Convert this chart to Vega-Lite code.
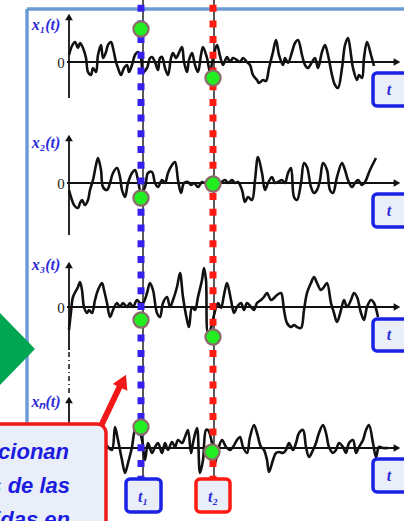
{
"$schema":"https://vega.github.io/schema/vega-lite/v6.json",
"width":404,"height":521,"autosize":{"type":"fit","contains":"padding"},"padding":0,
"background":"white",
"config":{"view":{"stroke":null}},
"datasets":{
"frame":[{"x":27,"y":9,"x2":404,"y2":9},{"x":27,"y":9,"x2":27,"y2":521}],
"tri":[{"x":0,"y":313,"y2":385},{"x":35,"y":349,"y2":349}],
"thin":[{"x":143,"y":0,"x2":143,"y2":478},{"x":214,"y":0,"x2":214,"y2":478}],
"axes":[{"x":67,"y":62,"x2":396,"y2":62},{"x":69,"y":98,"x2":69,"y2":18},
{"x":67,"y":183,"x2":396,"y2":183},{"x":69,"y":235,"x2":69,"y2":139},
{"x":67,"y":307,"x2":396,"y2":307},{"x":69,"y":350,"x2":69,"y2":266},
{"x":106,"y":448,"x2":396,"y2":448},{"x":69,"y":424,"x2":69,"y2":401}],
"axisdash":[{"x":69,"y":352,"x2":69,"y2":393}],
"arrR":[{"x":397,"y":62},{"x":397,"y":183},{"x":397,"y":307},{"x":397,"y":448}],
"arrU":[{"x":69,"y":17},{"x":69,"y":138},{"x":69,"y":265},{"x":69,"y":400}],
"signals":[
{"p":1,"x":69,"y":55},{"p":1,"x":72,"y":46},{"p":1,"x":75,"y":42},{"p":1,"x":78,"y":48},{"p":1,"x":80,"y":43},{"p":1,"x":83,"y":48},{"p":1,"x":86,"y":58},{"p":1,"x":88,"y":72},{"p":1,"x":91,"y":75},{"p":1,"x":93,"y":68},{"p":1,"x":96,"y":72},{"p":1,"x":98,"y":55},{"p":1,"x":101,"y":45},{"p":1,"x":103,"y":58},{"p":1,"x":106,"y":52},{"p":1,"x":108,"y":45},{"p":1,"x":111,"y":42},{"p":1,"x":113,"y":48},{"p":1,"x":116,"y":62},{"p":1,"x":118,"y":68},{"p":1,"x":121,"y":75},{"p":1,"x":124,"y":68},{"p":1,"x":127,"y":65},{"p":1,"x":129,"y":72},{"p":1,"x":132,"y":65},{"p":1,"x":135,"y":55},{"p":1,"x":138,"y":52},{"p":1,"x":141,"y":58},{"p":1,"x":143,"y":72},{"p":1,"x":147,"y":68},{"p":1,"x":150,"y":58},{"p":1,"x":152,"y":57},{"p":1,"x":155,"y":62},{"p":1,"x":158,"y":70},{"p":1,"x":160,"y":58},{"p":1,"x":162,"y":57},{"p":1,"x":165,"y":68},{"p":1,"x":168,"y":75},{"p":1,"x":171,"y":58},{"p":1,"x":173,"y":53},{"p":1,"x":176,"y":58},{"p":1,"x":178,"y":55},{"p":1,"x":182,"y":47},{"p":1,"x":184,"y":62},{"p":1,"x":187,"y":72},{"p":1,"x":189,"y":60},{"p":1,"x":192,"y":53},{"p":1,"x":195,"y":65},{"p":1,"x":198,"y":72},{"p":1,"x":201,"y":55},{"p":1,"x":203,"y":47},{"p":1,"x":207,"y":58},{"p":1,"x":210,"y":72},{"p":1,"x":213,"y":58},{"p":1,"x":217,"y":45},{"p":1,"x":220,"y":56},{"p":1,"x":223,"y":65},{"p":1,"x":227,"y":57},{"p":1,"x":230,"y":62},{"p":1,"x":233,"y":58},{"p":1,"x":237,"y":60},{"p":1,"x":240,"y":62},{"p":1,"x":243,"y":58},{"p":1,"x":247,"y":62},{"p":1,"x":250,"y":65},{"p":1,"x":253,"y":75},{"p":1,"x":257,"y":80},{"p":1,"x":259,"y":83},{"p":1,"x":263,"y":80},{"p":1,"x":266,"y":81},{"p":1,"x":269,"y":68},{"p":1,"x":273,"y":52},{"p":1,"x":276,"y":40},{"p":1,"x":279,"y":55},{"p":1,"x":283,"y":65},{"p":1,"x":285,"y":58},{"p":1,"x":288,"y":63},{"p":1,"x":292,"y":52},{"p":1,"x":295,"y":43},{"p":1,"x":298,"y":40},{"p":1,"x":302,"y":55},{"p":1,"x":305,"y":65},{"p":1,"x":308,"y":68},{"p":1,"x":312,"y":62},{"p":1,"x":315,"y":58},{"p":1,"x":318,"y":68},{"p":1,"x":322,"y":52},{"p":1,"x":325,"y":45},{"p":1,"x":328,"y":55},{"p":1,"x":332,"y":75},{"p":1,"x":335,"y":85},{"p":1,"x":338,"y":88},{"p":1,"x":342,"y":68},{"p":1,"x":345,"y":45},{"p":1,"x":348,"y":38},{"p":1,"x":351,"y":55},{"p":1,"x":353,"y":68},{"p":1,"x":357,"y":80},{"p":1,"x":359,"y":75},{"p":1,"x":362,"y":78},{"p":1,"x":364,"y":58},{"p":1,"x":367,"y":42},{"p":1,"x":371,"y":55},{"p":1,"x":374,"y":66},
{"p":2,"x":69,"y":190},{"p":2,"x":71,"y":197},{"p":2,"x":74,"y":205},{"p":2,"x":78,"y":208},{"p":2,"x":80,"y":203},{"p":2,"x":82,"y":200},{"p":2,"x":85,"y":205},{"p":2,"x":88,"y":200},{"p":2,"x":90,"y":190},{"p":2,"x":93,"y":180},{"p":2,"x":96,"y":165},{"p":2,"x":98,"y":158},{"p":2,"x":101,"y":170},{"p":2,"x":103,"y":187},{"p":2,"x":107,"y":190},{"p":2,"x":110,"y":183},{"p":2,"x":113,"y":173},{"p":2,"x":117,"y":168},{"p":2,"x":120,"y":177},{"p":2,"x":122,"y":190},{"p":2,"x":125,"y":197},{"p":2,"x":128,"y":183},{"p":2,"x":132,"y":173},{"p":2,"x":135,"y":170},{"p":2,"x":138,"y":180},{"p":2,"x":141,"y":193},{"p":2,"x":145,"y":187},{"p":2,"x":148,"y":173},{"p":2,"x":152,"y":172},{"p":2,"x":155,"y":183},{"p":2,"x":158,"y":187},{"p":2,"x":162,"y":180},{"p":2,"x":165,"y":183},{"p":2,"x":168,"y":173},{"p":2,"x":172,"y":165},{"p":2,"x":175,"y":162},{"p":2,"x":178,"y":180},{"p":2,"x":181,"y":193},{"p":2,"x":184,"y":183},{"p":2,"x":188,"y":182},{"p":2,"x":191,"y":185},{"p":2,"x":194,"y":183},{"p":2,"x":198,"y":187},{"p":2,"x":202,"y":182},{"p":2,"x":205,"y":183},{"p":2,"x":208,"y":180},{"p":2,"x":213,"y":183},{"p":2,"x":217,"y":184},{"p":2,"x":220,"y":183},{"p":2,"x":225,"y":180},{"p":2,"x":228,"y":183},{"p":2,"x":232,"y":180},{"p":2,"x":235,"y":183},{"p":2,"x":238,"y":182},{"p":2,"x":242,"y":190},{"p":2,"x":245,"y":202},{"p":2,"x":248,"y":197},{"p":2,"x":252,"y":200},{"p":2,"x":255,"y":180},{"p":2,"x":258,"y":157},{"p":2,"x":262,"y":173},{"p":2,"x":265,"y":190},{"p":2,"x":268,"y":183},{"p":2,"x":272,"y":177},{"p":2,"x":275,"y":183},{"p":2,"x":278,"y":182},{"p":2,"x":282,"y":180},{"p":2,"x":285,"y":183},{"p":2,"x":288,"y":173},{"p":2,"x":291,"y":168},{"p":2,"x":294,"y":197},{"p":2,"x":297,"y":200},{"p":2,"x":301,"y":183},{"p":2,"x":304,"y":163},{"p":2,"x":307,"y":167},{"p":2,"x":311,"y":187},{"p":2,"x":314,"y":193},{"p":2,"x":317,"y":190},{"p":2,"x":320,"y":180},{"p":2,"x":323,"y":163},{"p":2,"x":327,"y":170},{"p":2,"x":330,"y":190},{"p":2,"x":333,"y":193},{"p":2,"x":337,"y":177},{"p":2,"x":342,"y":163},{"p":2,"x":345,"y":170},{"p":2,"x":348,"y":180},{"p":2,"x":352,"y":187},{"p":2,"x":355,"y":183},{"p":2,"x":358,"y":180},{"p":2,"x":362,"y":185},{"p":2,"x":365,"y":182},{"p":2,"x":370,"y":170},{"p":2,"x":376,"y":158},
{"p":3,"x":69,"y":330},{"p":3,"x":71,"y":312},{"p":3,"x":73,"y":297},{"p":3,"x":78,"y":287},{"p":3,"x":80,"y":282},{"p":3,"x":82,"y":290},{"p":3,"x":84,"y":307},{"p":3,"x":87,"y":313},{"p":3,"x":89,"y":310},{"p":3,"x":92,"y":313},{"p":3,"x":95,"y":300},{"p":3,"x":98,"y":290},{"p":3,"x":102,"y":283},{"p":3,"x":104,"y":290},{"p":3,"x":107,"y":303},{"p":3,"x":110,"y":317},{"p":3,"x":113,"y":310},{"p":3,"x":117,"y":303},{"p":3,"x":120,"y":307},{"p":3,"x":123,"y":303},{"p":3,"x":127,"y":307},{"p":3,"x":130,"y":303},{"p":3,"x":133,"y":307},{"p":3,"x":137,"y":300},{"p":3,"x":140,"y":303},{"p":3,"x":143,"y":303},{"p":3,"x":147,"y":293},{"p":3,"x":150,"y":283},{"p":3,"x":153,"y":290},{"p":3,"x":157,"y":313},{"p":3,"x":160,"y":317},{"p":3,"x":163,"y":303},{"p":3,"x":167,"y":297},{"p":3,"x":170,"y":307},{"p":3,"x":173,"y":300},{"p":3,"x":177,"y":287},{"p":3,"x":180,"y":273},{"p":3,"x":183,"y":297},{"p":3,"x":187,"y":320},{"p":3,"x":189,"y":327},{"p":3,"x":192,"y":307},{"p":3,"x":195,"y":310},{"p":3,"x":198,"y":297},{"p":3,"x":202,"y":280},{"p":3,"x":204,"y":268},{"p":3,"x":206,"y":280},{"p":3,"x":208,"y":333},{"p":3,"x":211,"y":328},{"p":3,"x":214,"y":315},{"p":3,"x":218,"y":303},{"p":3,"x":221,"y":308},{"p":3,"x":224,"y":295},{"p":3,"x":227,"y":283},{"p":3,"x":231,"y":300},{"p":3,"x":234,"y":313},{"p":3,"x":237,"y":307},{"p":3,"x":241,"y":303},{"p":3,"x":244,"y":310},{"p":3,"x":247,"y":303},{"p":3,"x":251,"y":307},{"p":3,"x":254,"y":310},{"p":3,"x":257,"y":303},{"p":3,"x":261,"y":300},{"p":3,"x":264,"y":297},{"p":3,"x":267,"y":293},{"p":3,"x":271,"y":300},{"p":3,"x":274,"y":298},{"p":3,"x":277,"y":295},{"p":3,"x":281,"y":293},{"p":3,"x":284,"y":310},{"p":3,"x":287,"y":323},{"p":3,"x":291,"y":327},{"p":3,"x":294,"y":325},{"p":3,"x":297,"y":327},{"p":3,"x":301,"y":328},{"p":3,"x":304,"y":310},{"p":3,"x":307,"y":293},{"p":3,"x":311,"y":283},{"p":3,"x":314,"y":277},{"p":3,"x":317,"y":283},{"p":3,"x":321,"y":290},{"p":3,"x":324,"y":287},{"p":3,"x":327,"y":283},{"p":3,"x":331,"y":303},{"p":3,"x":334,"y":313},{"p":3,"x":337,"y":322},{"p":3,"x":341,"y":310},{"p":3,"x":344,"y":300},{"p":3,"x":347,"y":307},{"p":3,"x":351,"y":300},{"p":3,"x":354,"y":293},{"p":3,"x":357,"y":297},{"p":3,"x":361,"y":313},{"p":3,"x":364,"y":320},{"p":3,"x":367,"y":307},{"p":3,"x":371,"y":300},{"p":3,"x":374,"y":303},{"p":3,"x":378,"y":317},
{"p":4,"x":106,"y":445},{"p":4,"x":108,"y":447},{"p":4,"x":112,"y":450},{"p":4,"x":115,"y":427},{"p":4,"x":118,"y":440},{"p":4,"x":122,"y":460},{"p":4,"x":125,"y":473},{"p":4,"x":128,"y":463},{"p":4,"x":132,"y":447},{"p":4,"x":135,"y":430},{"p":4,"x":138,"y":427},{"p":4,"x":142,"y":440},{"p":4,"x":145,"y":460},{"p":4,"x":148,"y":443},{"p":4,"x":152,"y":453},{"p":4,"x":155,"y":447},{"p":4,"x":158,"y":443},{"p":4,"x":162,"y":453},{"p":4,"x":165,"y":443},{"p":4,"x":168,"y":450},{"p":4,"x":172,"y":442},{"p":4,"x":175,"y":447},{"p":4,"x":178,"y":440},{"p":4,"x":182,"y":443},{"p":4,"x":185,"y":437},{"p":4,"x":188,"y":430},{"p":4,"x":191,"y":453},{"p":4,"x":193,"y":443},{"p":4,"x":197,"y":428},{"p":4,"x":200,"y":473},{"p":4,"x":203,"y":460},{"p":4,"x":206,"y":430},{"p":4,"x":208,"y":430},{"p":4,"x":212,"y":443},{"p":4,"x":215,"y":463},{"p":4,"x":218,"y":450},{"p":4,"x":222,"y":440},{"p":4,"x":226,"y":447},{"p":4,"x":230,"y":450},{"p":4,"x":233,"y":447},{"p":4,"x":237,"y":440},{"p":4,"x":240,"y":437},{"p":4,"x":243,"y":447},{"p":4,"x":247,"y":453},{"p":4,"x":250,"y":437},{"p":4,"x":254,"y":425},{"p":4,"x":257,"y":433},{"p":4,"x":261,"y":447},{"p":4,"x":264,"y":450},{"p":4,"x":267,"y":460},{"p":4,"x":269,"y":472},{"p":4,"x":273,"y":460},{"p":4,"x":276,"y":453},{"p":4,"x":279,"y":452},{"p":4,"x":283,"y":453},{"p":4,"x":286,"y":450},{"p":4,"x":289,"y":443},{"p":4,"x":293,"y":450},{"p":4,"x":296,"y":443},{"p":4,"x":299,"y":433},{"p":4,"x":303,"y":430},{"p":4,"x":306,"y":447},{"p":4,"x":309,"y":457},{"p":4,"x":313,"y":450},{"p":4,"x":316,"y":443},{"p":4,"x":319,"y":433},{"p":4,"x":323,"y":425},{"p":4,"x":326,"y":433},{"p":4,"x":329,"y":447},{"p":4,"x":333,"y":453},{"p":4,"x":336,"y":450},{"p":4,"x":339,"y":443},{"p":4,"x":343,"y":447},{"p":4,"x":346,"y":453},{"p":4,"x":349,"y":443},{"p":4,"x":353,"y":440},{"p":4,"x":356,"y":453},{"p":4,"x":359,"y":447},{"p":4,"x":363,"y":440},{"p":4,"x":366,"y":430},{"p":4,"x":369,"y":425},{"p":4,"x":373,"y":443},{"p":4,"x":376,"y":457},{"p":4,"x":379,"y":447},{"p":4,"x":383,"y":448},{"p":4,"x":388,"y":448}],
"blueDash":[{"x":141,"y":0,"x2":141,"y2":478}],
"redDash":[{"x":213,"y":0,"x2":213,"y2":478}],
"dots":[{"x":141,"y":29},{"x":213,"y":78},{"x":141,"y":198},{"x":213,"y":184},{"x":141,"y":320},{"x":213,"y":337},{"x":141,"y":427},{"x":212,"y":452}],
"tboxes":[{"x":373,"y":73,"x2":415,"y2":106},{"x":373,"y":194,"x2":415,"y2":227},{"x":373,"y":319,"x2":415,"y2":351},{"x":373,"y":459,"x2":415,"y2":492},{"x":126,"y":479,"x2":161,"y2":512}],
"t2box":[{"x":196,"y":479,"x2":230,"y2":512}],
"zeros":[{"x":61,"y":63,"text":"0"},{"x":61,"y":184,"text":"0"},{"x":61,"y":308,"text":"0"}],
"names":[{"x":46,"y":25,"text":"x₁(t)"},{"x":46,"y":143,"text":"x₂(t)"},{"x":46,"y":265,"text":"x₃(t)"},{"x":46,"y":402,"text":"xₙ(t)"}],
"tlabels":[{"x":389,"y":90,"text":"t"},{"x":389,"y":211,"text":"t"},{"x":389,"y":335,"text":"t"},{"x":389,"y":476,"text":"t"},{"x":143,"y":497,"text":"t₁"},{"x":213,"y":497,"text":"t₂"}],
"callout":[{"x":-20,"y":424,"x2":106,"y2":560}],
"redArrow":[{"x":101,"y":426,"x2":120,"y2":386}],
"redHead":[{"x":123,"y":381}],
"ctext":[{"x":69,"y":452,"text":"cionan"},{"x":70,"y":486,"text":"s de las"},{"x":70,"y":520,"text":"idas en"}]
},
"encoding":{
"x":{"field":"x","type":"quantitative","scale":{"domain":[0,404],"nice":false,"zero":false},"axis":null},
"y":{"field":"y","type":"quantitative","scale":{"domain":[0,521],"reverse":true,"nice":false,"zero":false},"axis":null}
},
"layer":[
{"data":{"name":"frame"},"mark":{"type":"rule","color":"#6C9BD6","strokeWidth":3.5,"clip":true},"encoding":{"x2":{"field":"x2"},"y2":{"field":"y2"}}},
{"data":{"name":"tri"},"mark":{"type":"area","color":"#00A651","opacity":1,"clip":true},"encoding":{"y2":{"field":"y2"}}},
{"data":{"name":"thin"},"mark":{"type":"rule","color":"#222222","strokeWidth":1.5,"clip":true},"encoding":{"x2":{"field":"x2"},"y2":{"field":"y2"}}},
{"data":{"name":"axes"},"mark":{"type":"rule","color":"#111111","strokeWidth":1.8},"encoding":{"x2":{"field":"x2"},"y2":{"field":"y2"}}},
{"data":{"name":"axisdash"},"mark":{"type":"rule","color":"#111111","strokeWidth":1.5,"strokeDash":[5,3,1,3]},"encoding":{"x2":{"field":"x2"},"y2":{"field":"y2"}}},
{"data":{"name":"arrR"},"mark":{"type":"point","shape":"triangle-right","filled":true,"color":"#111111","size":60,"opacity":1}},
{"data":{"name":"arrU"},"mark":{"type":"point","shape":"triangle-up","filled":true,"color":"#111111","size":60,"opacity":1}},
{"data":{"name":"signals"},"mark":{"type":"line","color":"#111111","strokeWidth":2.6,"interpolate":"catmull-rom"},"encoding":{"detail":{"field":"p"}}},
{"data":{"name":"blueDash"},"mark":{"type":"rule","color":"#3520F0","strokeWidth":7,"strokeDash":[7,8.7],"strokeDashOffset":11,"strokeCap":"butt","clip":true},"encoding":{"x2":{"field":"x2"},"y2":{"field":"y2"}}},
{"data":{"name":"redDash"},"mark":{"type":"rule","color":"#FF1A12","strokeWidth":7,"strokeDash":[7,8.7],"strokeDashOffset":11,"strokeCap":"butt","clip":true},"encoding":{"x2":{"field":"x2"},"y2":{"field":"y2"}}},
{"data":{"name":"dots"},"mark":{"type":"point","shape":"circle","filled":true,"fill":"#22EE22","stroke":"#8C6B6B","strokeWidth":2.2,"size":230,"opacity":1}},
{"data":{"name":"tboxes"},"mark":{"type":"rect","fill":"#E9EEF9","stroke":"#1A22E6","strokeWidth":3.5,"cornerRadius":4,"clip":true},"encoding":{"x2":{"field":"x2"},"y2":{"field":"y2"}}},
{"data":{"name":"t2box"},"mark":{"type":"rect","fill":"#E9EEF9","stroke":"#FF1A12","strokeWidth":3.5,"cornerRadius":4},"encoding":{"x2":{"field":"x2"},"y2":{"field":"y2"}}},
{"data":{"name":"zeros"},"mark":{"type":"text","font":"Liberation Serif","fontSize":15,"color":"#222222","align":"center","baseline":"middle"},"encoding":{"text":{"field":"text"}}},
{"data":{"name":"names"},"mark":{"type":"text","font":"Liberation Serif","fontSize":16,"fontStyle":"italic","fontWeight":"bold","color":"#2B2BD9","align":"center","baseline":"middle"},"encoding":{"text":{"field":"text"}}},
{"data":{"name":"tlabels"},"mark":{"type":"text","font":"Liberation Serif","fontSize":16,"fontStyle":"italic","fontWeight":"bold","color":"#2B2BD9","align":"center","baseline":"middle"},"encoding":{"text":{"field":"text"}}},
{"data":{"name":"callout"},"mark":{"type":"rect","fill":"#E9EEF9","stroke":"#F01818","strokeWidth":3.5,"cornerRadius":9,"clip":true},"encoding":{"x2":{"field":"x2"},"y2":{"field":"y2"}}},
{"data":{"name":"redArrow"},"mark":{"type":"rule","color":"#F01818","strokeWidth":6},"encoding":{"x2":{"field":"x2"},"y2":{"field":"y2"}}},
{"data":{"name":"redHead"},"mark":{"type":"point","shape":"triangle-up","filled":true,"color":"#F01818","size":260,"angle":25,"opacity":1}},
{"data":{"name":"ctext"},"mark":{"type":"text","font":"Liberation Sans","fontSize":22,"fontStyle":"italic","fontWeight":"bold","color":"#1C1CE0","align":"right","baseline":"middle","clip":true},"encoding":{"text":{"field":"text"}}}
]
}
